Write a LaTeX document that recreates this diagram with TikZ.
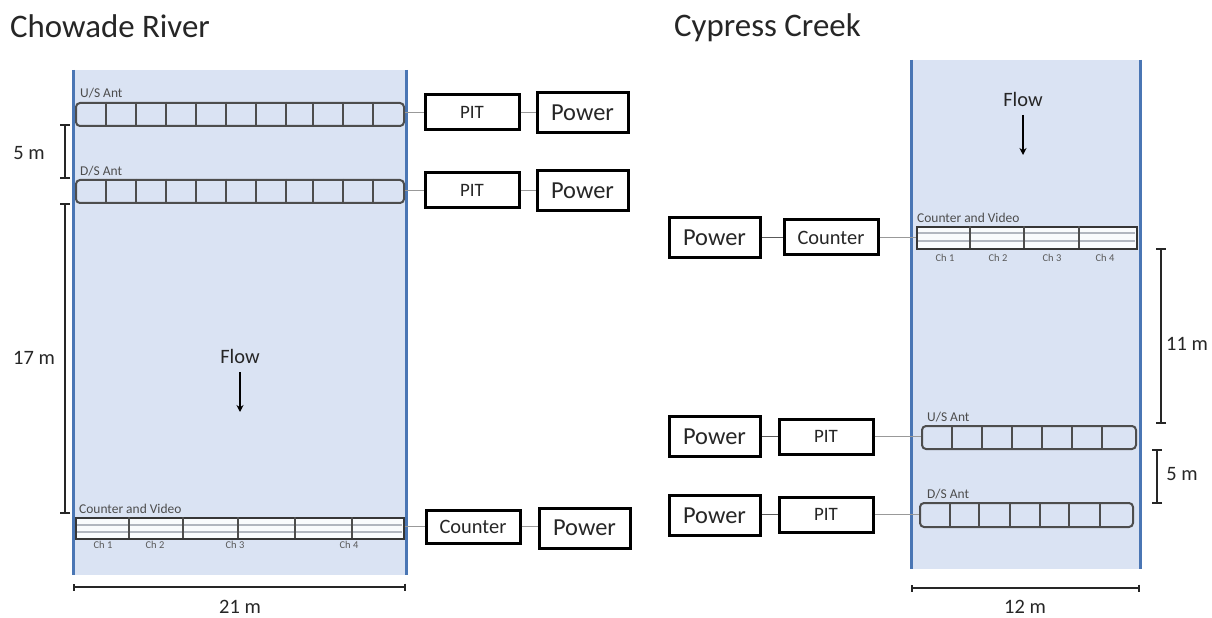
\documentclass[tikz,border=0pt]{standalone}
\usepackage{fontspec}
\setmainfont{Carlito}
\usetikzlibrary{arrows.meta}
\definecolor{water}{HTML}{DAE3F3}
\definecolor{bank}{HTML}{4A76B4}
\definecolor{ink}{HTML}{262626}
\definecolor{cell}{HTML}{4D4D4D}
\newcommand{\fs}[1]{\fontsize{#1}{#1}\selectfont}
\tikzset{
  x=1bp,y=-1bp,
  title/.style={inner sep=0,anchor=west,text=ink,font=\fs{33}},
  boxb/.style={draw=black,line width=3bp,fill=white,inner sep=0,text=ink},
  pit/.style={boxb,minimum width=94bp,minimum height=35bp,font=\fs{19}},
  cntbox/.style={pit,font=\fs{20.5}},
  pow/.style={boxb,minimum width=91bp,minimum height=40bp,font=\fs{24.5}},
  wire/.style={draw=gray!80,line width=1.2bp},
  wired/.style={draw=black!65,line width=1.4bp},
  ant/.style={draw=cell,line width=2bp,rounded corners=4bp,inner sep=0},
  cnt/.style={draw=cell!70!black,line width=2.2bp,inner sep=0},
  div/.style={draw=cell,line width=1.8bp},
  band/.style={fill=white!85!water},
  stripe/.style={draw=gray!45!water,line width=1.4bp},
  small/.style={inner sep=0,text=black!70,font=\fs{13.5}},
  tiny/.style={inner sep=0,text=black!65,font=\fs{10.5}},
  dim/.style={draw=ink,line width=1.9bp,{Bar[width=10bp]}-{Bar[width=10bp]}},
  dimh/.style={draw=ink,line width=1.9bp,{Bar[width=7bp]}-{Bar[width=7bp]}},
  dimtext/.style={inner sep=0,text=ink,font=\fs{20.5}},
  flow/.style={draw=black,line width=1.8bp,-{Stealth[length=7bp,width=7bp]}},
  bankline/.style={draw=bank,line width=3bp},
}
\newcommand{\panel}[4]{% x1, y1, x2, y2
  \fill[water] (#1,#2) rectangle (#3,#4);
  \draw[bankline] (#1,#2) -- (#1,#4);
  \draw[bankline] (#3,#2) -- (#3,#4);
}
\newcommand{\antenna}[6]{% name,style,x1,y1,x2,y2
  \node[#2,minimum width=#5bp-#3bp,minimum height=#6bp-#4bp,anchor=north west] (#1) at (#3,#4) {};
}
\newcommand{\cuts}[3]{% y1,y2,list
  \foreach \xx in {#3} {\draw[div] (\xx,#1) -- (\xx,#2);}
}
\begin{document}
\begin{tikzpicture}
\useasboundingbox (0,0) rectangle (1212,618);
\fill[white] (0,0) rectangle (1212,618);

\node[title] (t1) at (10,26) {Chowade River};
\node[title] (t2) at (674,28) {Cypress Creek};

\panel{73}{70}{406}{575}
\panel{911}{60}{1140}{569}

% Left antennas
\antenna{a1}{ant}{75}{102}{403}{125}
\cuts{102}{125}{106,136,166,196,226,256,286,313,343,373}
\antenna{a2}{ant}{75}{179}{403}{202}
\cuts{179}{202}{106,136,166,196,226,256,286,313,343,373}
\fill[band] (75,517) rectangle (403,538);
\draw[stripe] (76,525) -- (402,525) (76,532) -- (402,532);
\antenna{a3}{cnt}{75}{517}{403}{538}
\cuts{517}{538}{129,183,238,295,352}

% Right antennas
\fill[band] (916,226) rectangle (1136,248);
\draw[stripe] (917,233) -- (1135,233) (917,241) -- (1135,241);
\antenna{b1}{cnt}{916}{226}{1136}{248}
\cuts{226}{248}{970,1024,1079}
\antenna{b2}{ant}{921}{425}{1135}{448}
\cuts{425}{448}{952,982,1012,1042,1072,1102}
\antenna{b3}{ant}{919}{502}{1132}{526}
\cuts{502}{526}{950,979,1010,1040,1069,1100}

% Antenna labels
\node[small,anchor=west] (l1) at (80,93) {U/S Ant};
\node[small,anchor=west] (l2) at (80,171) {D/S Ant};
\node[small,anchor=west] (l3) at (79,509) {Counter and Video};
\node[small,anchor=west] (l4) at (917,218) {Counter and Video};
\node[small,anchor=west] (l5) at (927,417) {U/S Ant};
\node[small,anchor=west] (l6) at (927,494) {D/S Ant};

\node[tiny] (c1) at (103,545) {Ch 1};
\node[tiny] (c2) at (155,545) {Ch 2};
\node[tiny] (c3) at (235,545) {Ch 3};
\node[tiny] (c4) at (349,545) {Ch 4};
\node[tiny] (d1) at (945,258) {Ch 1};
\node[tiny] (d2) at (998,258) {Ch 2};
\node[tiny] (d3) at (1052,258) {Ch 3};
\node[tiny] (d4) at (1105,258) {Ch 4};

% Equipment boxes
\node[pit] (p1) at (472,112.5) {PIT};
\node[pow] (w1) at (582.5,113) {Power};
\node[pit] (p2) at (472,190.5) {PIT};
\node[pow] (w2) at (582.5,191) {Power};
\node[cntbox,minimum height=33bp] (p3) at (473,526.5) {Counter};
\node[pow] (w3) at (584.5,528) {Power};
\node[pow] (w4) at (714.5,237.5) {Power};
\node[cntbox] (p4) at (831,237.5) {Counter};
\node[pow] (w5) at (714.5,436.5) {Power};
\node[pit] (p5) at (826,436.5) {PIT};
\node[pow] (w6) at (714.5,515.5) {Power};
\node[pit] (p6) at (826,514.5) {PIT};

% Connectors
\draw[wire] (a1.east |- p1.west) -- (p1.west);
\draw[wire] (p1.east) -- (w1.west |- p1.east);
\draw[wire] (a2.east |- p2.west) -- (p2.west);
\draw[wire] (p2.east) -- (w2.west |- p2.east);
\draw[wire] (a3.east |- p3.west) -- (p3.west);
\draw[wire] (p3.east) -- (w3.west |- p3.east);
\draw[wired] (w4.east) -- (p4.west);
\draw[wire] (p4.east) -- (b1.west |- p4.east);
\draw[wired] (w5.east) -- (p5.west);
\draw[wire] (p5.east) -- (b2.west |- p5.east);
\draw[wired] (w6.east |- p6.west) -- (p6.west);
\draw[wire] (p6.east) -- (b3.west |- p6.east);

% Flow
\node[dimtext] (f1) at (240,356) {Flow};
\coordinate (f1a) at (240,372);
\coordinate (f1b) at (240,412);
\draw[flow] (f1a) -- (f1b);
\node[dimtext] (f2) at (1023,99) {Flow};
\coordinate (f2a) at (1023,115);
\coordinate (f2b) at (1023,155);
\draw[flow] (f2a) -- (f2b);

% Dimensions
\coordinate (m1) at (65,124); \coordinate (m2) at (65,179);
\draw[dim] (m1) -- (m2);
\node[dimtext] (m1t) at (29,153) {5 m};
\coordinate (m3) at (65,203); \coordinate (m4) at (65,514);
\draw[dim] (m3) -- (m4);
\node[dimtext] (m3t) at (34,358) {17 m};
\coordinate (m5) at (73,587); \coordinate (m6) at (406,587);
\draw[dimh] (m5) -- (m6);
\node[dimtext] (m5t) at (240,607) {21 m};
\coordinate (n1) at (911,588); \coordinate (n2) at (1140,588);
\draw[dimh] (n1) -- (n2);
\node[dimtext] (n1t) at (1025,607) {12 m};
\coordinate (n3) at (1161,248); \coordinate (n4) at (1161,424);
\draw[dim] (n3) -- (n4);
\node[dimtext] (n3t) at (1187,344) {11 m};
\coordinate (n5) at (1157,449); \coordinate (n6) at (1157,504);
\draw[dim] (n5) -- (n6);
\node[dimtext] (n5t) at (1182,474) {5 m};
\end{tikzpicture}
\end{document}
